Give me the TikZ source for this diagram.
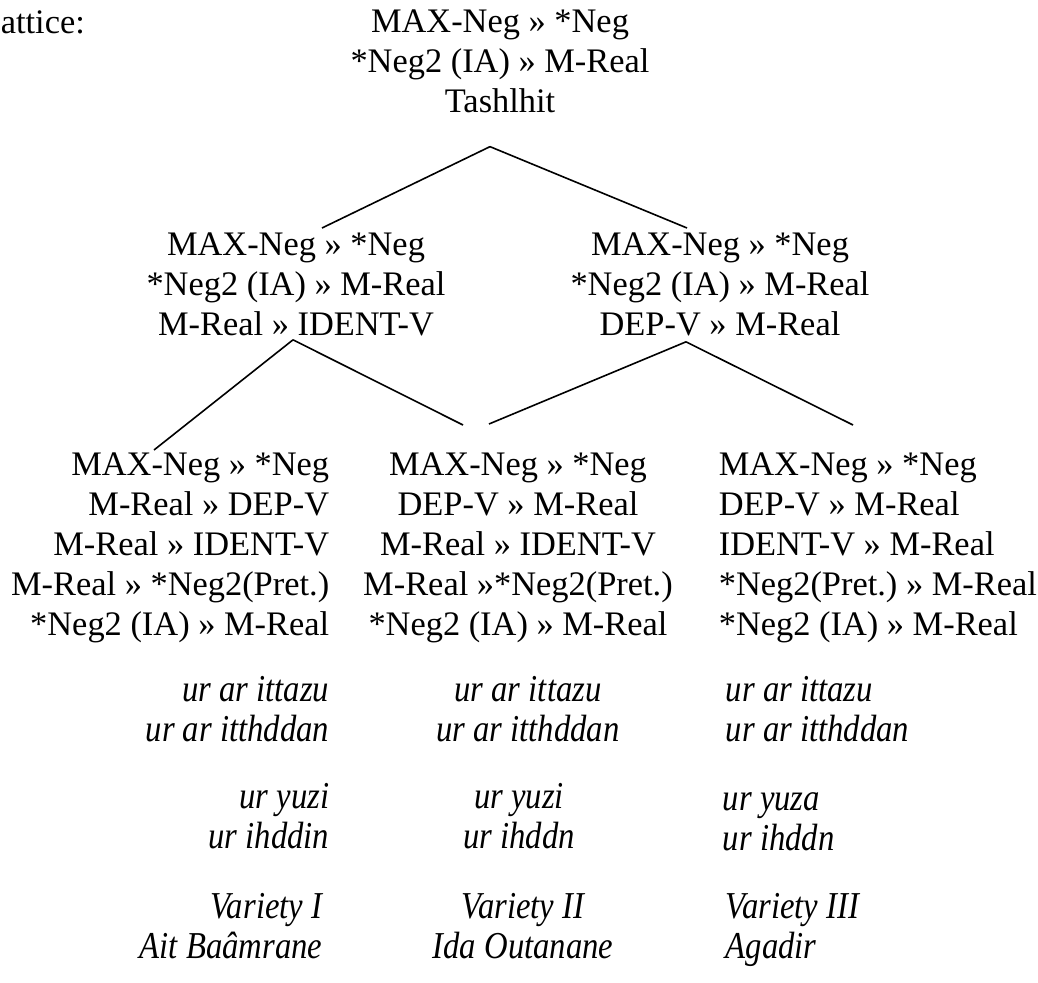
\documentclass[tikz,border=0pt]{standalone}
\usepackage{fontspec}
\setmainfont{Liberation Serif}
\newfontfamily\exfont{Liberation Serif}[FakeStretch=0.86]
\frenchspacing

\begin{document}
\begin{tikzpicture}[x=1pt, y=-1pt, line width=1.6pt,
  ranking/.style={align=center, inner sep=0pt, font=\fontsize{34.4}{40}\selectfont},
  forms/.style={ranking, font=\fontsize{38}{40}\selectfont\exfont\itshape}]
\useasboundingbox (0,0) rectangle (1038,982);
\node [ranking, anchor=base west] (title) at (0,34) {attice:};
% the lattice
\node [ranking, anchor=north] (top) at (500,9) {MAX-Neg » *Neg\\{}*Neg2 (IA) » M-Real\\Tashlhit};
\node [ranking, anchor=north] (midL) at (296,232) {MAX-Neg » *Neg\\{}*Neg2 (IA) » M-Real\\M-Real » IDENT-V};
\node [ranking, anchor=north] (midR) at (720,232) {MAX-Neg » *Neg\\{}*Neg2 (IA) » M-Real\\DEP-V » M-Real};
\node [ranking, anchor=north east, align=right] (botL) at (330,452) {MAX-Neg » *Neg\\M-Real » DEP-V\\M-Real » IDENT-V\\M-Real » *Neg2(Pret.)\\{}*Neg2 (IA) » M-Real};
\node [ranking, anchor=north] (botM) at (518,452) {MAX-Neg » *Neg\\DEP-V » M-Real\\M-Real » IDENT-V\\M-Real »*Neg2(Pret.)\\{}*Neg2 (IA) » M-Real};
\node [ranking, anchor=north west, align=left] (botR) at (718,452) {MAX-Neg » *Neg\\DEP-V » M-Real\\IDENT-V » M-Real\\{}*Neg2(Pret.) » M-Real\\{}*Neg2 (IA) » M-Real};
\draw ([shift={(-10,33)}]top.south) -- ([shift={(26,-4)}]midL.north);
\draw ([shift={(-10,33)}]top.south) -- ([shift={(-33,-4)}]midR.north);
\draw ([shift={(-3,3)}]midL.south) -- ([shift={(-176,-2)}]botL.north east);
\draw ([shift={(-3,3)}]midL.south) -- ([shift={(-55,-27)}]botM.north);
\draw ([shift={(-34,5)}]midR.south) -- ([shift={(-29,-28)}]botM.north);
\draw ([shift={(-34,5)}]midR.south) -- ([shift={(135,-27)}]botR.north west);
% forms and varieties
\node [forms, anchor=north east, align=right] (formsL1) at (330,676) {ur ar ittazu\\ur ar itthddan};
\node [forms, anchor=north east, align=right] (formsL2) at (330,783) {ur yuzi\\ur ihddin};
\node [forms, anchor=north east, align=right] (varL) at (323,893) {Variety I\\Ait Baâmrane};
\node [forms, anchor=north] (formsM1) at (528,676) {ur ar ittazu\\ur ar itthddan};
\node [forms, anchor=north] (formsM2) at (519,783) {ur yuzi\\ur ihddn};
\node [forms, anchor=north] (varM) at (523,893) {Variety II\\Ida Outanane};
\node [forms, anchor=north west, align=left] (formsR1) at (725,676) {ur ar ittazu\\ur ar itthddan};
\node [forms, anchor=north west, align=left] (formsR2) at (722,792) {ur yuza\\ur ihddn};
\node [forms, anchor=north west, align=left] (varR) at (725,893) {Variety III\\Agadir};
\end{tikzpicture}
\end{document}
